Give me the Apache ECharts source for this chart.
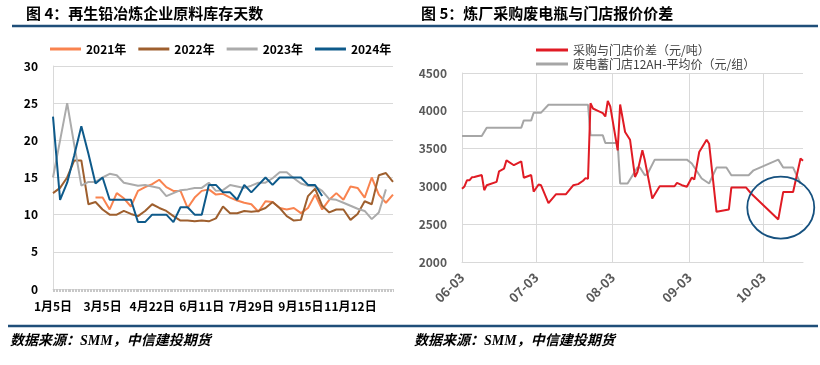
<!DOCTYPE html>
<html><head><meta charset="utf-8">
<script src="https://cdn.jsdelivr.net/npm/echarts@6/dist/echarts.min.js"></script>
<style>html,body{margin:0;padding:0;background:#fff}#c{width:820px;height:365px}</style>
</head><body><div id="c"></div>
<script>
// ---------- Left chart data (weekly points) ----------
const leftTickLabels = ['1月5日','3月5日','4月22日','6月11日','7月29日','9月15日','11月12日'];
const leftCount = 49;
const labelEvery = 7;
const leftNames = ['2021年','2022年','2023年','2024年'];
const s2021 = [null,null,null,null,null,null,12.3,12.3,10.7,12.9,12.2,11.1,13.2,13.7,14.1,14.7,13.7,13.2,13.2,10.9,12.3,13.2,13.4,12.7,12.8,12.3,11.9,11.6,11.4,10.4,11.8,11.7,10.9,10.7,10.9,10.2,10.9,12.7,10.7,12.0,12.9,12.0,13.8,13.6,12.3,15.0,12.7,11.6,12.7];
const s2022 = [12.9,13.6,15.0,17.3,17.3,11.4,11.7,10.7,10.0,10.0,10.5,10.1,9.8,10.5,11.4,10.9,10.5,9.8,9.2,9.2,9.1,9.2,9.1,9.5,11.1,10.2,10.2,10.5,10.4,10.5,10.9,11.7,10.9,9.8,9.2,9.3,12.5,13.5,11.2,10.3,10.7,10.7,9.3,10.1,11.8,11.4,15.3,15.6,14.4];
const s2023 = [15.0,20.0,25.0,19.4,13.9,14.4,14.4,15.0,15.5,15.3,14.3,14.1,13.9,14.0,13.8,13.6,12.5,12.9,13.3,13.4,13.6,13.6,14.3,13.2,13.3,14.0,13.8,13.6,13.9,14.3,14.3,14.9,15.7,15.7,14.9,14.2,13.9,13.8,13.2,12.1,12.0,11.6,11.2,10.8,10.5,9.4,10.3,13.4];
const s2024 = [23.2,12.0,14.3,18.0,21.9,18.2,14.2,15.0,12.0,12.0,12.0,12.0,9.0,9.0,10.0,10.0,10.0,9.0,11.0,11.0,10.0,10.0,14.0,14.0,13.0,13.0,12.0,14.0,13.0,14.0,15.0,14.0,15.0,15.0,15.0,15.0,14.0,14.0,12.5];
const leftDenseTicks = 230;

// ---------- Right chart data (daily axis) ----------
const rightStart = '2024-06-03';
const rightEnd = '2024-10-19';
const rightNames = ['采购与门店价差（元/吨）','废电蓄门店12AH-平均价（元/组）'];
const redDates = ['06-03','06-04','06-05','06-06','06-07','06-08','06-11','06-12','06-13','06-17','06-18','06-20','06-21','06-24','06-27','06-28','07-01','07-02','07-04','07-05','07-08','07-11','07-15','07-18','07-20','07-22','07-23','07-24','07-25','07-26','07-28','07-30','07-31','08-01','08-02','08-05','08-06','08-08','08-10','08-12','08-13','08-15','08-16','08-19','08-22','08-28','08-29','08-31','09-02','09-04','09-05','09-07','09-10','09-11','09-14','09-19','09-20','09-26','09-28','10-09','10-11','10-15','10-18','10-19'];
const redValues = [2970,3000,3080,3080,3120,3125,3150,2950,3015,3060,3200,3235,3345,3280,3330,3115,3150,2930,3025,3015,2780,2895,2895,3015,3030,3075,3110,3100,4100,4030,4000,3970,3925,4130,4058,3477,4084,3719,3618,3125,3190,3477,3345,2840,3002,3002,3046,3016,2995,3117,3090,3455,3618,3565,2664,2695,2985,2985,2906,2563,2927,2927,3368,3340];
const grayDates = ['06-03','06-11','06-13','06-27','06-28','07-01','07-02','07-05','07-08','07-24','07-25','07-30','07-31','08-05','08-06','08-09','08-13','08-14','08-16','08-17','08-20','09-02','09-04','09-08','09-11','09-14','09-18','09-20','09-27','09-29','10-09','10-11','10-15','10-18'];
const grayValues = [3666,3666,3777,3777,3873,3873,3975,3975,4080,4080,3675,3675,3574,3574,3038,3038,3249,3249,3147,3160,3354,3354,3302,3104,3038,3249,3249,3147,3147,3213,3354,3249,3249,3038];
const circleAt = ['10-10', 2720];

// ---------- build ----------
function buildDays(start, end) {
  const out = [];
  let d = new Date(start + 'T00:00:00Z');
  const e = new Date(end + 'T00:00:00Z');
  while (d <= e) {
    out.push(String(d.getUTCMonth() + 1).padStart(2, '0') + '-' + String(d.getUTCDate()).padStart(2, '0'));
    d = new Date(d.getTime() + 86400000);
  }
  return out;
}
const rightDays = buildDays(rightStart, rightEnd);
const leftCats = Array.from({length: leftCount}, (_, i) => i % labelEvery === 0 ? leftTickLabels[i / labelEvery] : '');
const isMonthTick = (i, v) => /-03$/.test(v);

const FONT = "'Noto Sans CJK SC','Noto Sans',sans-serif";
const GRID_C = '#D9D9D9';
const leftColors = ['#F9834F', '#9E5F2E', '#ABABAB', '#0E5A8A'];
const RED = '#E01B24', GRAY = '#A6A6A6', DARK = '#1F4E79';

const chart = echarts.init(document.getElementById('c'), null, {renderer: 'canvas', width: 820, height: 365});

const leftSeriesData = [s2021, s2022, s2023, s2024];
const series = leftSeriesData.map((d, k) => ({
  name: leftNames[k], type: 'line', xAxisIndex: 0, yAxisIndex: 0, data: d,
  symbol: 'none', lineStyle: {width: 2, color: leftColors[k]}, itemStyle: {color: leftColors[k]}
}));
series.push({
  name: rightNames[1], type: 'line', xAxisIndex: 1, yAxisIndex: 1,
  data: grayDates.map((d, i) => [d, grayValues[i]]),
  symbol: 'none', lineStyle: {width: 2, color: GRAY}, itemStyle: {color: GRAY}
});
series.push({
  name: rightNames[0], type: 'line', xAxisIndex: 1, yAxisIndex: 1,
  data: redDates.map((d, i) => [d, redValues[i]]),
  symbol: 'none', lineStyle: {width: 2, color: RED}, itemStyle: {color: RED}
});

chart.setOption({
  animation: false,
  textStyle: {fontFamily: FONT},
  title: [
    {text: '图 4：再生铅冶炼企业原料库存天数', left: 21, top: 1, textStyle: {fontFamily: FONT, fontSize: 15, fontWeight: 'bold', color: '#000'}},
    {text: '图 5：炼厂采购废电瓶与门店报价价差', left: 416, top: 1, textStyle: {fontFamily: FONT, fontSize: 15, fontWeight: 'bold', color: '#000'}}
  ],
  legend: [
    {data: leftNames, left: 45, top: 38, icon: 'rect', itemWidth: 31, itemHeight: 3, itemGap: 12,
     textStyle: {fontFamily: FONT, fontSize: 12, fontWeight: 'bold', color: '#000'}},
    {data: rightNames, orient: 'vertical', left: 531, top: 39, icon: 'rect', itemWidth: 32, itemHeight: 3, itemGap: 2,
     textStyle: {fontFamily: FONT, fontSize: 12, color: '#404040'}}
  ],
  grid: [
    {left: 53, top: 66, width: 340, height: 223},
    {left: 462, top: 73, width: 341, height: 189}
  ],
  xAxis: [
    {type: 'category', gridIndex: 0, data: leftCats, boundaryGap: false,
     axisLine: {lineStyle: {color: GRID_C}}, axisTick: {show: false},
     axisLabel: {interval: labelEvery - 1, margin: 11, fontFamily: FONT, fontSize: 12, fontWeight: 'bold', color: '#000'},
     splitLine: {show: false}},
    {type: 'category', gridIndex: 1, data: rightDays, boundaryGap: false,
     axisLine: {lineStyle: {color: GRID_C}}, axisTick: {show: false},
     axisLabel: {interval: isMonthTick, rotate: 45, margin: 13, fontFamily: FONT, fontSize: 13, fontWeight: 'bold', color: '#595959'},
     splitLine: {show: true, interval: isMonthTick, lineStyle: {color: GRID_C}}},
    {type: 'value', gridIndex: 0, position: 'bottom', min: 0, max: leftDenseTicks, interval: 1,
     axisLine: {show: false}, axisLabel: {show: false}, splitLine: {show: false},
     axisTick: {show: true, length: 3, lineStyle: {color: '#C8C8C8'}}}
  ],
  yAxis: [
    {type: 'value', gridIndex: 0, min: 0, max: 30, interval: 5,
     axisLine: {show: true, lineStyle: {color: GRID_C}}, axisTick: {show: false},
     axisLabel: {margin: 15, fontFamily: FONT, fontSize: 12, fontWeight: 'bold', color: '#000'},
     splitLine: {lineStyle: {color: GRID_C}}},
    {type: 'value', gridIndex: 1, min: 2000, max: 4500, interval: 500,
     axisLine: {show: true, lineStyle: {color: GRID_C}}, axisTick: {show: false},
     axisLabel: {margin: 15, formatter: v => String(v), fontFamily: FONT, fontSize: 12, fontWeight: 'bold', color: '#595959'},
     splitLine: {lineStyle: {color: GRID_C}}}
  ],
  series: series
});

const cpt = chart.convertToPixel({xAxisIndex: 1, yAxisIndex: 1}, circleAt);
chart.setOption({
  graphic: [
    {type: 'line', shape: {x1: 12, y1: 26, x2: 818, y2: 26}, style: {stroke: DARK, lineWidth: 2.5}},
    {type: 'line', shape: {x1: 8, y1: 326, x2: 818, y2: 326}, style: {stroke: DARK, lineWidth: 2.5}},
    {type: 'text', left: 10, top: 334, style: {text: '数据来源：SMM，中信建投期货', fill: '#000', font: "italic bold 14px 'Liberation Serif','Noto Sans CJK SC',serif"}},
    {type: 'text', left: 414, top: 334, style: {text: '数据来源：SMM，中信建投期货', fill: '#000', font: "italic bold 14px 'Liberation Serif','Noto Sans CJK SC',serif"}},
    {type: 'ellipse', shape: {cx: cpt[0], cy: cpt[1], rx: 33.5, ry: 31}, style: {fill: 'none', stroke: '#16517F', lineWidth: 1.8}, z: 100}
  ]
});
</script></body></html>
